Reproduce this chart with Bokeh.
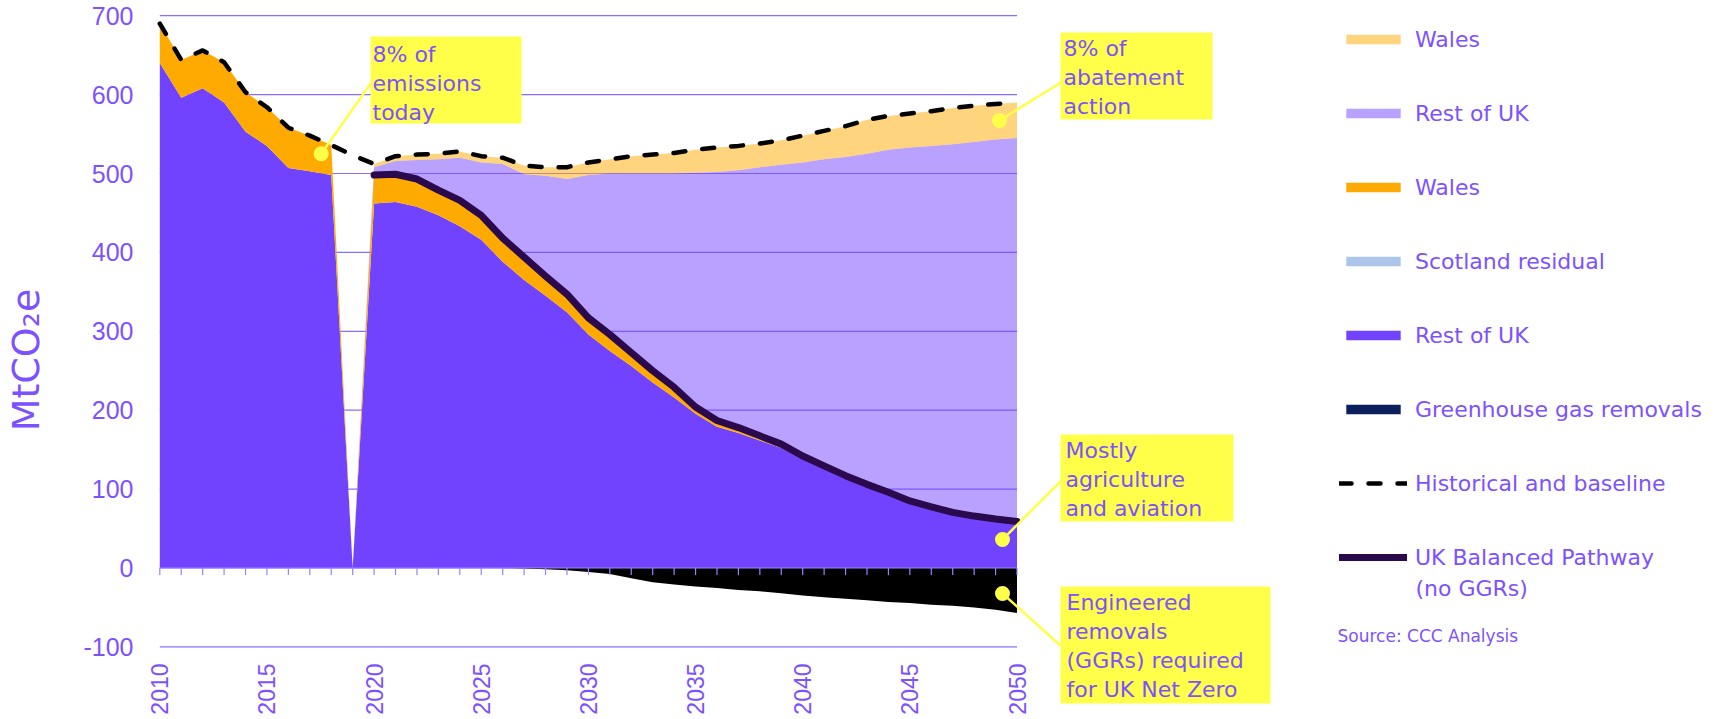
import numpy as np
from bokeh.plotting import figure
from bokeh.models import Range1d, FixedTicker, Legend, LegendItem, BoxAnnotation, Label
from bokeh.embed import file_html
from bokeh.resources import INLINE
from bokeh.core.properties import value

# ---------------- data (MtCO2e) ----------------
years = list(range(2010, 2051))

rest_of_uk = [640, 596, 608, 590, 553, 535, 507, 503, 498, 0,
              462, 464, 458, 447, 433, 416, 388, 365, 345, 324,
              296, 275, 256, 235, 216, 195.5, 179, 171, 161.5, 152,
              138, 126, 114, 103.5, 94, 83.5, 76.6, 69.5, 65, 61.4, 58.5]

wales = [50, 48, 48, 51, 50, 49, 51, 45, 38, 0,
         36, 35, 35, 32, 33, 31, 30, 29, 25, 23,
         21, 21, 17, 15, 13, 8.5, 8, 7, 6, 5,
         4, 3.5, 3, 2.5, 2, 1.5, 1, 1, 0.8, 0.6, 0.5]

scotland_residual = [0, 0, 0, 0, 0, 0, 0, 0, 0, 0,
                     0, 0, 0, 0, 0, 0, 0, 0, 0, 0,
                     0, 0, 0, 0, 0, 0, 0, 0, 0, 0,
                     0, 0, 0, 0, 0, 0, 0, 0, 0, 0, 0]

rest_of_uk_abatement = [0, 0, 0, 0, 0, 0, 0, 0, 0, 0,
                        10, 17, 24, 39, 54, 67, 94, 105, 127, 146,
                        181, 204, 227, 250, 271, 297, 315, 326, 340.5, 354,
                        372, 388.5, 404, 419, 434, 448, 457.4, 466.5, 474.2, 481, 486]

wales_abatement = [0, 0, 0, 0, 0, 0, 0, 0, 0, 0,
                   4, 6, 7, 7, 8, 8, 8, 11, 11, 15,
                   16, 18, 22, 24, 26, 29, 31, 31, 30, 31,
                   34, 36, 39, 43, 43, 43, 44, 46, 46, 45, 45]

ggr = [0, 0, 0, 0, 0, 0, 0, 0, 0, 0,
       0, 0, 0, 0, 0, 0, 0, -0.5, -1.5, -3,
       -5, -7.5, -13, -18, -21, -23.5, -25.5, -28, -29.5, -32,
       -35, -37, -39, -41, -43, -44.5, -46.5, -48, -50, -53, -57]

historical_baseline = [690, 644, 656, 641, 603, 584, 558, 548, 536, 523,
                       512, 522, 524, 525, 528, 522, 520, 510, 508, 508,
                       514, 518, 522, 524, 526, 530, 533, 535, 538, 542,
                       548, 554, 560, 568, 573, 576, 579, 583, 586, 588, 590]

pathway_years = list(range(2020, 2051))
uk_balanced_pathway = [498, 499, 493, 479, 466, 447, 418, 394, 370, 347,
                       317, 296, 273, 250, 229, 204, 187, 178, 167.5, 157,
                       142, 129.5, 117, 106, 96, 85, 77.6, 70.5, 65.8, 62, 59]

y_ticks = [-100, 0, 100, 200, 300, 400, 500, 600, 700]
x_label_years = [2010, 2015, 2020, 2025, 2030, 2035, 2040, 2045, 2050]
x_labels = [str(v) for v in x_label_years]

# ---------------- style ----------------
PURPLE = "#7243FF"
ORANGE = "#FFAA00"
TEXT = "#7C52FF"
GRID = "#8C6CFF"
YELLOW = "#FFFF4A"
PATH_COL = "#2A0A4C"
FONT = "DejaVu Sans"

W, H = 1719, 719
LEFT = 148

# page-pixel -> data helpers (layout only)
def rx(px):
    return 2010 + (px - 159.3) / 21.43

def ry(py):
    return (567.5 - py) / 0.789

p = figure(width=W, height=H, output_backend="svg", toolbar_location=None,
           x_range=Range1d(rx(LEFT), rx(W)),
           y_range=Range1d(ry(H), ry(0)),
           min_border_left=LEFT, min_border_right=0, min_border_top=0,
           min_border_bottom=0)
p.outline_line_color = None
p.grid.visible = False
p.xaxis.visible = False
p.background_fill_color = "white"

# gridlines (only across the data span)
p.segment(x0=[years[0]] * len(y_ticks), x1=[years[-1]] * len(y_ticks),
          y0=y_ticks, y1=y_ticks, line_color=GRID, line_width=1.2)

# stacked areas
x = np.array(years, dtype=float)
s0 = np.zeros(len(years))
s1 = s0 + np.array(rest_of_uk)
s2 = s1 + np.array(wales)
s3 = s2 + np.array(scotland_residual)
s4 = s3 + np.array(rest_of_uk_abatement)
s5 = s4 + np.array(wales_abatement)

r_rest = p.varea(x=x, y1=s0, y2=s1, fill_color=PURPLE)
r_wales = p.varea(x=x, y1=s1, y2=s2, fill_color=ORANGE)
r_scot = p.varea(x=x, y1=s2, y2=s3, fill_color="#ADC5E8")
r_rest_ab = p.varea(x=x, y1=s3, y2=s4, fill_color=PURPLE, fill_alpha=0.5)
r_wales_ab = p.varea(x=x, y1=s4, y2=s5, fill_color=ORANGE, fill_alpha=0.5)
r_ggr = p.varea(x=x, y1=s0, y2=np.array(ggr), fill_color="#000000")
# legend key for GGRs (zero-height, navy as in the source legend)
r_ggr_key = p.varea(x=x, y1=np.array(ggr), y2=np.array(ggr), fill_color="#0B1F5C")

# zero axis line with yearly ticks
p.segment(x0=[years[0]], x1=[years[-1]], y0=[0], y1=[0], line_color="#9C80FF", line_width=1.2)
p.segment(x0=years, x1=years, y0=[0] * len(years), y1=[-9] * len(years),
          line_color="#9C80FF", line_width=1.2)

r_path = p.line(pathway_years, uk_balanced_pathway, line_color=PATH_COL, line_width=7,
                line_cap="round", line_join="round")
r_base = p.line(years, historical_baseline, line_color="black", line_width=4.5,
                line_dash="12 17", line_cap="round", line_join="round")

# category labels along the bottom (low position, rotated)
p.text(x=x_label_years, y=[ry(663)] * len(x_label_years), text=x_labels,
       angle=np.pi / 2, text_align="right", text_baseline="middle",
       text_font=value("Liberation Sans"), text_font_size="23px", text_color=TEXT)

# y axis
p.yaxis.ticker = FixedTicker(ticks=y_ticks)
p.yaxis.major_label_overrides = {-100: "-100"}
p.yaxis.axis_line_color = None
p.yaxis.major_tick_line_color = None
p.yaxis.minor_tick_line_color = None
p.yaxis.major_tick_out = 0
p.yaxis.major_tick_in = 0
p.yaxis.minor_tick_out = 0
p.yaxis.major_label_standoff = 15
p.yaxis.major_label_text_font = "Liberation Sans"
p.yaxis.major_label_text_font_size = "25px"
p.yaxis.major_label_text_color = TEXT
p.yaxis.axis_label = "MtCO₂e"
p.yaxis.axis_label_text_font = FONT
p.yaxis.axis_label_text_font_size = "38px"
p.yaxis.axis_label_text_font_style = "normal"
p.yaxis.axis_label_text_color = TEXT
p.yaxis.axis_label_standoff = 32

# callouts
callouts = [
    # box (l, r, t, b), text origin, text, leader (box end, dot)
    ((370, 521, 36, 123), (372, 41), "8% of\nemissions\ntoday", (371, 82), (320.7, 153.3)),
    ((1060, 1212, 32, 119), (1063, 35), "8% of\nabatement\naction", (1062, 81), (999, 120)),
    ((1060, 1233, 434, 521), (1065, 437), "Mostly\nagriculture\nand aviation", (1063, 478), (1002, 539)),
    ((1060, 1270, 586, 703), (1066, 589), "Engineered\nremovals\n(GGRs) required\nfor UK Net Zero", (1060, 645), (1002, 593)),
]
for (l, r, t, b), (tx, ty), txt, (lx, ly), (dxp, dyp) in callouts:
    p.segment(x0=[rx(lx)], y0=[ry(ly)], x1=[rx(dxp)], y1=[ry(dyp)], line_color=YELLOW, line_width=2.5)
    p.scatter(x=[rx(dxp)], y=[ry(dyp)], size=15, marker="circle", fill_color=YELLOW, line_color=None)
    p.add_layout(BoxAnnotation(left=rx(l), right=rx(r), top=ry(t), bottom=ry(b),
                               fill_color=YELLOW, fill_alpha=1, line_color=None))
    p.add_layout(Label(x=rx(tx), y=ry(ty), text=txt, text_font=FONT, text_font_size="22px",
                       text_color=TEXT, text_align="left", text_baseline="top",
                       text_line_height=1.16))

# legend
legend = Legend(items=[
    LegendItem(label="Wales", renderers=[r_wales_ab]),
    LegendItem(label="Rest of UK", renderers=[r_rest_ab]),
    LegendItem(label="Wales", renderers=[r_wales]),
    LegendItem(label="Scotland residual", renderers=[r_scot]),
    LegendItem(label="Rest of UK", renderers=[r_rest]),
    LegendItem(label="Greenhouse gas removals", renderers=[r_ggr_key]),
    LegendItem(label="Historical and baseline", renderers=[r_base]),
    LegendItem(label="UK Balanced Pathway", renderers=[r_path]),
], location=(1339 - LEFT, 149), orientation="vertical",
    glyph_width=68, glyph_height=12, label_standoff=8, label_height=26,
    spacing=48, padding=0, margin=0,
    label_text_font=FONT, label_text_font_size="22px", label_text_color=TEXT,
    background_fill_alpha=0, border_line_color=None)
p.add_layout(legend)

p.add_layout(Label(x=rx(1415), y=ry(587.5), text="(no GGRs)", text_font=FONT,
                   text_font_size="22px", text_color=TEXT, text_align="left",
                   text_baseline="middle"))
p.add_layout(Label(x=rx(1337), y=ry(635), text="Source: CCC Analysis", text_font=FONT,
                   text_font_size="17px", text_color=TEXT, text_align="left",
                   text_baseline="middle"))

open("out.html", "w").write(file_html(p, INLINE))
